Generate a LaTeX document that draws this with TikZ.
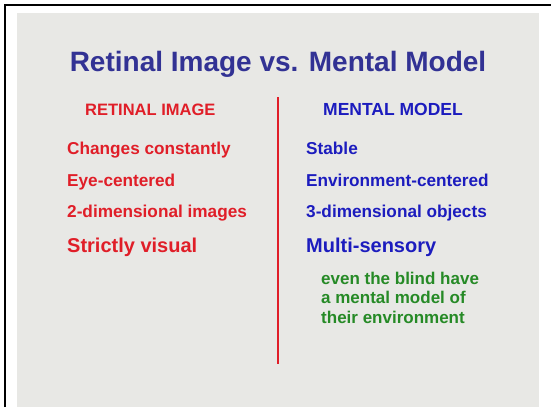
\documentclass[tikz,border=0pt]{standalone}
\usepackage{fontspec}
\setmainfont{Liberation Sans}
\usepackage{xcolor}
\usetikzlibrary{positioning}

\definecolor{slidegray}{RGB}{232,232,229}
\definecolor{titleblue}{RGB}{50,50,148}
\definecolor{retred}{RGB}{224,30,40}
\definecolor{mentblue}{RGB}{28,28,190}
\definecolor{blindgreen}{RGB}{38,138,38}

\begin{document}
\begin{tikzpicture}[x=1pt,y=-1pt,
        item/.style={anchor=base west,inner sep=0pt,font=\bfseries\fontsize{17.2}{20}\selectfont},
        bigitem/.style={item,font=\bfseries\fontsize{20}{24}\selectfont},
        head/.style={item,font=\bfseries\fontsize{17}{20}\selectfont},
        note/.style={item,text=blindgreen,font=\bfseries\fontsize{17}{20}\selectfont}]
            \useasboundingbox (0,0) rectangle (551,407);
            \fill[white] (0,0) rectangle (551,407);
            \fill[slidegray] (17,13) rectangle (539,407);
            \draw[line width=2pt] (5,407)--(5,5)--(551,5);

            % title
            \node[anchor=base,inner sep=0pt,text=titleblue,font=\bfseries\fontsize{28}{34}\selectfont]
                (title) at (278,71) {Retinal Image vs. Mental Model};

            % divider
            \coordinate (divtop) at (278,97);
            \coordinate (divbot) at (278,364);
            \draw[draw=retred,line width=2pt] (divtop)--(divbot);

            % retinal image column
            \node[head,text=retred,font=\bfseries\fontsize{16.5}{20}\selectfont] (rethead) at (85,115) {RETINAL IMAGE};
            \node[item,text=retred] (retA) at (67,154) {Changes constantly};
            \node[item,text=retred] (retB) at (67,186) {Eye-centered};
            \node[item,text=retred] (retC) at (67,217) {2-dimensional images};
            \node[bigitem,text=retred] (retD) at (67,252) {Strictly visual};

            % mental model column
            \node[head,text=mentblue,font=\bfseries\fontsize{17.5}{20}\selectfont] (menthead) at (323,115) {MENTAL MODEL};
            \node[item,text=mentblue] (mentA) at (306,154) {Stable};
            \node[item,text=mentblue] (mentB) at (306,186) {Environment-centered};
            \node[item,text=mentblue] (mentC) at (306,217) {3-dimensional objects};
            \node[bigitem,text=mentblue] (mentD) at (306,252) {Multi-sensory};

            \node[note] (blindA) at (321,284) {even the blind have};
            \node[note] (blindB) at (321,303) {a mental model of};
            \node[note] (blindC) at (321,323) {their environment};
        \end{tikzpicture}
\end{document}
